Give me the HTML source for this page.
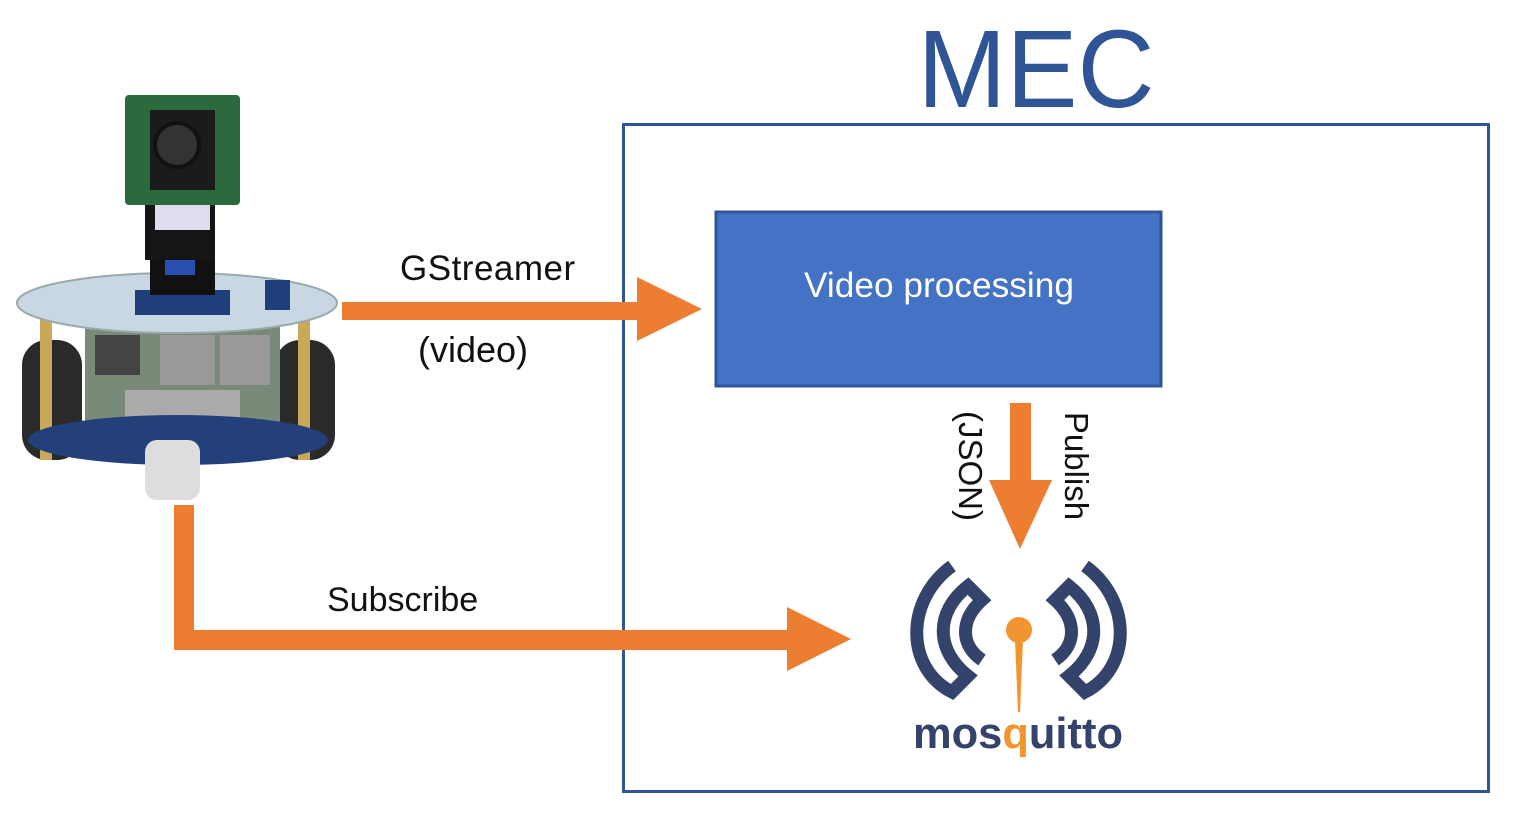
<!DOCTYPE html>
<html><head><meta charset="utf-8"><style>
body{margin:0;width:1519px;height:816px;background:#fff;overflow:hidden;position:relative;font-family:"Liberation Sans",sans-serif}
.t{position:absolute;font-family:"Liberation Sans",sans-serif;color:#111;font-size:35px;white-space:nowrap}
</style></head><body>
<svg width="1519" height="816" style="position:absolute;left:0;top:0">
<text x="1036" y="107" text-anchor="middle" font-family="Liberation Sans" font-size="110" fill="#2f5597" textLength="237" lengthAdjust="spacingAndGlyphs">MEC</text>
<rect x="623.5" y="124.5" width="865" height="667" fill="none" stroke="#2f5597" stroke-width="3"/>
<rect x="716" y="212" width="445" height="174" fill="#4472c4" stroke="#2f5597" stroke-width="3"/>
<text x="939" y="297" text-anchor="middle" font-family="Liberation Sans" font-size="35" fill="#fff" textLength="270" lengthAdjust="spacingAndGlyphs">Video processing</text>
<g fill="#ed7d31">
<rect x="342" y="302" width="297" height="18"/>
<polygon points="637,277 702,309 637,341"/>
<rect x="174" y="505" width="20" height="145"/>
<rect x="174" y="630" width="615" height="20"/>
<polygon points="787,607 851,639 787,671"/>
<rect x="1010" y="403" width="21" height="79"/>
<polygon points="989,480 1052,480 1020,549"/>
</g>
<g fill="none" stroke="#34436b" stroke-width="13" stroke-linejoin="miter">
<path d="M952,566 C905,600 905,668 952,692 L968,676 C935,650 935,612 968,586 L982,600 C960,620 960,645 982,660"/>
<path d="M1085,566 C1132,600 1132,668 1085,692 L1069,676 C1102,650 1102,612 1069,586 L1055,600 C1077,620 1077,645 1055,660"/>
</g>
<circle cx="1019" cy="630" r="13" fill="#f29531"/>
<polygon points="1015,640 1023,640 1020,712 1018,712" fill="#f29531"/>
<text x="913" y="748" font-family="Liberation Sans" font-weight="bold" font-size="44" fill="#34436b" textLength="210" lengthAdjust="spacingAndGlyphs">mos<tspan fill="#f29531">q</tspan>uitto</text>
<g>
<rect x="22" y="340" width="60" height="120" rx="25" fill="#2a2a2a"/>
<rect x="275" y="340" width="60" height="120" rx="25" fill="#2a2a2a"/>
<rect x="85" y="325" width="195" height="110" fill="#7a8a78"/>
<rect x="95" y="335" width="45" height="40" fill="#444"/>
<rect x="160" y="335" width="55" height="50" fill="#999"/>
<rect x="220" y="335" width="50" height="50" fill="#999"/>
<rect x="125" y="390" width="115" height="45" fill="#aaa"/>
<rect x="40" y="315" width="12" height="145" fill="#c9a85a"/>
<rect x="298" y="315" width="12" height="145" fill="#c9a85a"/>
<ellipse cx="178" cy="440" rx="150" ry="25" fill="#24407a"/>
<rect x="145" y="440" width="55" height="60" rx="12" fill="#ddd"/>
<ellipse cx="177" cy="303" rx="160" ry="30" fill="#c9d6e4" stroke="#9aa" stroke-width="2"/>
<rect x="135" y="290" width="95" height="25" fill="#1e3f7a"/>
<rect x="150" y="255" width="65" height="40" fill="#111"/>
<rect x="165" y="260" width="30" height="15" fill="#2a4fb0"/>
<rect x="265" y="280" width="25" height="30" fill="#1e3f7a"/>
<rect x="145" y="200" width="70" height="60" fill="#151515"/>
<rect x="155" y="195" width="55" height="35" fill="#dde"/>
<rect x="125" y="95" width="115" height="110" rx="4" fill="#2b6a3c"/>
<rect x="150" y="110" width="65" height="80" fill="#1b1b1b"/>
<circle cx="177" cy="145" r="22" fill="#333" stroke="#111" stroke-width="4"/>
</g>
</svg>
<div class="t" style="left:400px;top:249px;letter-spacing:0.5px">GStreamer</div>
<div class="t" style="left:418px;top:329px;font-size:36px">(video)</div>
<div class="t" style="left:327px;top:581px;font-size:34px">Subscribe</div>
<div class="t" style="left:920px;top:442px;transform:rotate(90deg);transform-origin:center;width:100px;text-align:center;font-size:33px">(JSON)</div>
<div class="t" style="left:1020px;top:447px;transform:rotate(90deg);transform-origin:center;width:112px;text-align:center;font-size:33px">Publish</div>
</body></html>
